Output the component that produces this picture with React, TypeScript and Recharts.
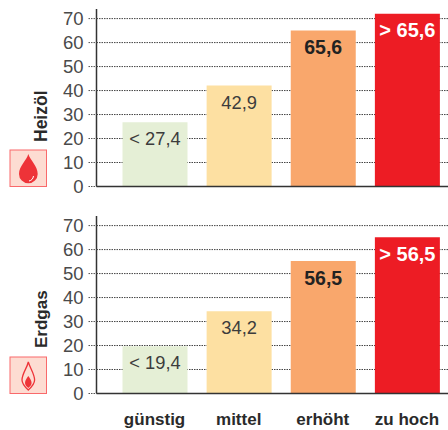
import React from 'react';
import { BarChart, Bar, XAxis, YAxis, CartesianGrid, Cell, LabelList } from 'recharts';

const categories = ['günstig', 'mittel', 'erhöht', 'zu hoch'];
const colors = ['#e5efd6', '#fde0a2', '#f9a76c', '#ed1c24'];
const labelColors = ['#3c3c3c', '#3c3c3c', '#222222', '#ffffff'];
const labelWeights = [400, 400, 700, 700];
const labelSizes = [18.3, 18.3, 19.5, 20];
const yTicks = [0, 10, 20, 30, 40, 50, 60, 70];

const heizoelValues = [26.8, 42.1, 65, 72];
const heizoelLabels = ['< 27,4', '42,9', '65,6', '> 65,6'];
const erdgasValues = [19.7, 34.3, 55.2, 65.1];
const erdgasLabels = ['< 19,4', '34,2', '56,5', '> 56,5'];

const FONT = '"Liberation Sans", Arial, sans-serif';

function Panel({ values, labels, top, showX }: { values: number[]; labels: string[]; top: number; showX: boolean }) {
  const data = categories.map((c, i) => ({ c, v: values[i] }));
  return (
    <div style={{ position: 'absolute', left: 0, top, width: 448, height: 223 }}>
      <BarChart
        width={450}
        height={223}
        data={data}
        margin={{ top: 9, right: 0, bottom: 0, left: 0 }}
        barSize={65}
      >
        <CartesianGrid horizontal vertical={false} syncWithTicks stroke="#444" strokeWidth={1} strokeDasharray="1.5 1" />
        <XAxis
          dataKey="c"
          interval={0}
          height={36.5}
          padding={{ left: 16, right: 1 }}
          axisLine={{ stroke: '#333', strokeWidth: 1.5 }}
          tickLine={false}
          tickMargin={13}
          tick={showX ? { fill: '#2a2a2a', fontSize: 17, fontWeight: 700, fontFamily: FONT } : false}
        />
        <YAxis
          width={96.5}
          domain={[0, 74]}
          ticks={yTicks}
          interval={0}
          axisLine={{ stroke: '#333', strokeWidth: 1.5 }}
          tickLine={{ stroke: '#555', strokeDasharray: '1.5 1' }}
          tickSize={8}
          tickMargin={5}
          tick={{ fill: '#4a4a4a', fontSize: 18.5, fontFamily: FONT }}
        />
        <Bar dataKey="v" isAnimationActive={false}>
          {data.map((d, i) => <Cell key={d.c} fill={colors[i]} />)}
          <LabelList
            dataKey="v"
            content={(p: any) => (
              <text
                x={p.x + p.width / 2}
                y={p.y + 16.5}
                textAnchor="middle"
                dominantBaseline="central"
                fontFamily={FONT}
                fontSize={labelSizes[p.index]}
                fontWeight={labelWeights[p.index]}
                fill={labelColors[p.index]}
              >
                {labels[p.index]}
              </text>
            )}
          />
        </Bar>
      </BarChart>
    </div>
  );
}

function Decorations() {
  return (
    <svg width={448} height={430} style={{ position: 'absolute', left: 0, top: 0, pointerEvents: 'none' }}>
      <text transform="translate(47,142) rotate(-90)" fontFamily={FONT} fontWeight={700} fontSize={17.5} fill="#2a2a2a">Heizöl</text>
      <text transform="translate(47,348) rotate(-90)" fontFamily={FONT} fontWeight={700} fontSize={17} fill="#2a2a2a">Erdgas</text>
      <rect x={10} y={150} width={36.5} height={36.5} fill="#fddcd2" stroke="#f9696b" strokeWidth={1} />
      <path d="M28.3 154 C27 160 19 166 19 174 A9.3 9.3 0 0 0 37.7 174 C37.7 166 30 160 28.3 154 Z" fill="#ee3338" />
      <path d="M33.5 176 C33 179 31.5 180.5 29 181" fill="none" stroke="#ffffff" strokeWidth={1} />
      <rect x={10} y={357} width={36.5} height={36.5} fill="#fddcd2" stroke="#f9696b" strokeWidth={1} />
      <path d="M28.3 362 C27 368 22 374 22 380 C22 384 25 387 28.3 390 C31.6 387 34.6 384 34.6 380 C34.6 374 30 368 28.3 362 Z" fill="none" stroke="#ee3338" strokeWidth={1.3} />
      <path d="M28.3 376 C27 378 25 380 25 383 C25 385 27 387 28.3 388 C29.6 387 31.6 385 31.6 383 C31.6 380 29.6 378 28.3 376 Z" fill="#ee3338" />
    </svg>
  );
}

export default function App() {
  return (
    <div style={{ position: 'absolute', left: 0, top: 0, width: 448, height: 430, overflow: 'hidden', background: '#fff' }}>
      <Panel values={heizoelValues} labels={heizoelLabels} top={0} showX={false} />
      <Panel values={erdgasValues} labels={erdgasLabels} top={207} showX />
      <Decorations />
    </div>
  );
}
